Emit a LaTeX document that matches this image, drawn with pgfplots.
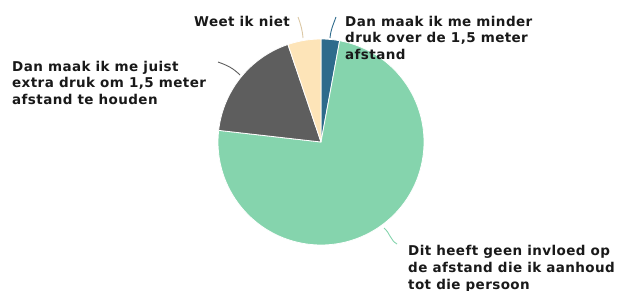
\documentclass[border=0pt]{standalone}
\usepackage{pgfplots}
\pgfplotsset{compat=1.18}
\usepackage{pgfplotstable}
\usepackage{fontspec}
\setmainfont{DejaVu Sans}[LetterSpace=3]
\definecolor{pieblue}{HTML}{2E6B8C}
\definecolor{piegreen}{HTML}{85D4AD}
\definecolor{piegray}{HTML}{5E5E5E}
\definecolor{pieyellow}{HTML}{FDE4B8}
\pgfplotstableread{
value colour
2.9 pieblue
73.9 piegreen
18.0 piegray
5.2 pieyellow
}\piedata
\begin{document}
\begin{tikzpicture}
\begin{axis}[
  width=623pt, height=290pt, scale only axis,
  xmin=0, xmax=623, ymin=0, ymax=290,
  hide axis, clip=true,
]
\def\cum{0}
\pgfplotsforeachungrouped \i in {0,...,3}{%
  \pgfplotstablegetelem{\i}{value}\of\piedata \let\v\pgfplotsretval
  \pgfplotstablegetelem{\i}{colour}\of\piedata \let\c\pgfplotsretval
  \pgfmathsetmacro\a{90-\cum*3.6}%
  \pgfmathsetmacro\b{90-(\cum+\v)*3.6}%
  \edef\temp{\noexpand\fill[\c, draw=white, line width=0.8pt, line join=round] (axis cs:321,148) -- ++(\a:103pt) arc[start angle=\a, end angle=\b, radius=103pt] -- cycle;}%
  \temp
  \pgfmathsetmacro\cum{\cum+\v}%
}
% leader lines
\draw[pieyellow!85!black!90, line width=0.9pt] (axis cs:298,273) to[out=-70, in=95] (axis cs:303,252);
\draw[pieblue, line width=0.9pt] (axis cs:336,273) to[out=-110, in=85] (axis cs:330,252);
\draw[piegray, line width=0.9pt] (axis cs:218,228) to[out=-20, in=135] (axis cs:240,215);
\draw[piegreen, line width=0.9pt] (axis cs:384,62) to[out=-40, in=150] (axis cs:397,46);
% labels
\tikzset{lab/.style={anchor=base west, inner sep=0pt, font=\fontsize{13.5pt}{16pt}\selectfont\bfseries, text=black!90}}
\node[lab] at (axis cs:194,263.5) {Weet ik niet};
\node[lab] at (axis cs:345,264) {Dan maak ik me minder};
\node[lab] at (axis cs:345,247.4) {druk over de 1,5 meter};
\node[lab] at (axis cs:345,230.8) {afstand};
\node[lab] at (axis cs:12,218.3) {Dan maak ik me juist};
\node[lab] at (axis cs:12,202.1) {extra druk om 1,5 meter};
\node[lab] at (axis cs:12,185.9) {afstand te houden};
\node[lab] at (axis cs:408,34.3) {Dit heeft geen invloed op};
\node[lab] at (axis cs:408,17.7) {de afstand die ik aanhoud};
\node[lab] at (axis cs:408,0.5) {tot die persoon};
\end{axis}
\pgfresetboundingbox
\path[use as bounding box] (current axis.south west) rectangle (current axis.north east);
\end{tikzpicture}
\end{document}
